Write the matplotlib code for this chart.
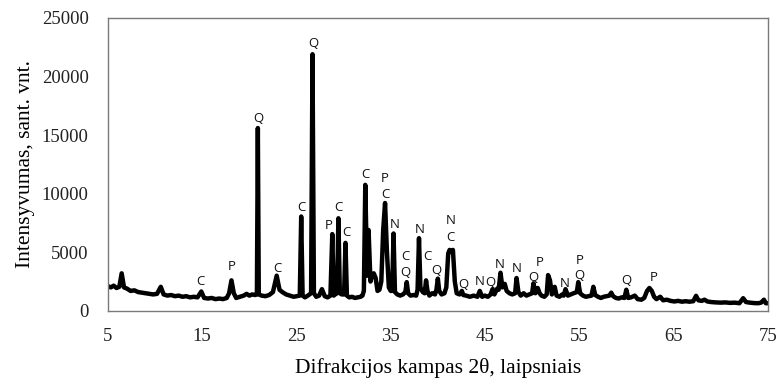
import matplotlib
matplotlib.use('Agg')
import matplotlib.pyplot as plt

# XRD trace (2theta, intensity)
two_theta = [
    5.0, 5.3, 5.6, 5.9, 6.2, 6.45, 6.7, 7.0, 7.4, 7.8, 8.2, 8.6, 9.0, 9.4, 9.8,
    10.2, 10.6, 10.9, 11.3, 11.7, 12.1, 12.5, 12.9, 13.3, 13.7, 14.1, 14.5, 14.9, 15.2,
    15.6, 16.0, 16.4, 16.8, 17.2, 17.6, 17.85, 18.1, 18.35, 18.6, 19.0, 19.4, 19.7,
    20.0, 20.3, 20.6, 20.8, 20.9, 21.0, 21.3, 21.7, 22.1, 22.5, 22.9, 23.2, 23.5, 23.9,
    24.3, 24.7, 25.0, 25.35, 25.5, 25.65, 25.9, 26.2, 26.55, 26.7, 26.85, 27.1, 27.4,
    27.7, 28.0, 28.3, 28.6, 28.8, 28.95, 29.1, 29.3, 29.45, 29.6, 29.8, 30.05, 30.2,
    30.35, 30.6, 30.9, 31.2, 31.5, 31.8, 32.0, 32.15, 32.3, 32.5, 32.65, 32.85, 33.0,
    33.2, 33.4, 33.6, 33.8, 34.0, 34.2, 34.4, 34.6, 34.8, 35.0, 35.15, 35.3, 35.45,
    35.7, 36.0, 36.3, 36.55, 36.7, 36.85, 37.1, 37.4, 37.7, 37.85, 38.0, 38.15, 38.4,
    38.6, 38.75, 38.9, 39.1, 39.4, 39.7, 39.85, 40.0, 40.15, 40.4, 40.7, 40.9, 41.1,
    41.25, 41.45, 41.6, 41.8, 42.0, 42.3, 42.55, 42.7, 43.0, 43.4, 43.8, 44.2, 44.45,
    44.7, 45.0, 45.3, 45.6, 45.8, 46.0, 46.3, 46.45, 46.65, 46.85, 47.1, 47.3, 47.6,
    47.9, 48.2, 48.35, 48.55, 48.8, 49.1, 49.4, 49.7, 50.0, 50.15, 50.35, 50.6, 50.8,
    51.0, 51.3, 51.55, 51.7, 51.9, 52.1, 52.4, 52.6, 52.9, 53.2, 53.35, 53.55, 53.8,
    54.1, 54.4, 54.75, 54.9, 55.1, 55.4, 55.7, 56.0, 56.3, 56.5, 56.7, 57.0, 57.3,
    57.6, 57.9, 58.2, 58.4, 58.6, 58.9, 59.2, 59.5, 59.8, 60.0, 60.2, 60.5, 60.9,
    61.2, 61.6, 61.9, 62.2, 62.45, 62.7, 62.95, 63.2, 63.6, 63.9, 64.3, 64.7, 65.1,
    65.5, 65.9, 66.3, 66.7, 67.1, 67.4, 67.65, 68.0, 68.3, 68.6, 69.0, 69.5, 70.0,
    70.5, 71.0, 71.5, 72.0, 72.4, 72.7, 73.1, 73.6, 74.0, 74.3, 74.6, 74.8, 75.0,
]
intensity = [
    2100, 2000, 2150, 1950, 2050, 3200, 2000, 1900, 1700, 1750, 1600, 1550, 1500, 1450, 1400,
    1450, 2050, 1400, 1300, 1350, 1250, 1300, 1200, 1250, 1150, 1200, 1150, 1650, 1100,
    1050, 1100, 1000, 1050, 1000, 1100, 1500, 2600, 1500, 1100, 1200, 1300, 1450,
    1300, 1400, 1350, 1400, 15600, 1400, 1300, 1250, 1350, 1600, 3000, 1800, 1600, 1400,
    1300, 1200, 1250, 1300, 8050, 1300, 1150, 1300, 1500, 21900, 1500, 1200, 1300,
    1850, 1250, 1150, 1300, 6550, 1300, 1400, 1500, 7900, 1500, 1400, 1400, 5800,
    1300, 1150, 1200, 1100, 1150, 1200, 1300, 1700, 10750, 3000, 6900, 2500, 3000,
    3200, 2800, 1700, 1800, 2500, 6900, 9200, 5000, 2000, 1700, 1700, 6600, 1600,
    1400, 1300, 1400, 1600, 2450, 1500, 1300, 1350, 1300, 1800, 6200, 2000, 1600,
    1500, 2600, 1700, 1300, 1500, 1400, 1800, 2750, 1700, 1400, 1500, 2000, 4900,
    5200, 5000, 5200, 2500, 1500, 1400, 1700, 1350, 1300, 1200, 1300, 1200, 1700,
    1200, 1300, 1200, 1400, 1850, 1400, 1900, 1800, 3250, 2000, 2300, 1700, 1500,
    1400, 1500, 2800, 1600, 1300, 1500, 1300, 1400, 1500, 2350, 1500, 1950, 1500,
    1300, 1200, 1400, 3050, 2600, 1400, 2050, 1300, 1200, 1400, 1300, 1850, 1300,
    1400, 1500, 1600, 2450, 1500, 1300, 1200, 1250, 1300, 2050, 1350, 1200, 1100,
    1200, 1250, 1300, 1550, 1250, 1100, 1050, 1150, 1100, 1800, 1100, 1150, 1300,
    1000, 950, 1100, 1700, 1950, 1700, 1200, 1000, 1200, 900, 950, 850, 800,
    850, 780, 820, 780, 820, 1280, 900, 850, 950, 800, 750, 720, 700,
    720, 680, 700, 650, 1080, 750, 700, 660, 650, 700, 950, 650, 650,
]

# phase labels: position (2theta), height, letter
label_x = [14.8, 18.1, 20.9, 23.0, 25.5, 26.8, 28.4, 29.4, 30.3, 32.3, 34.4, 34.4,
           35.4, 36.6, 36.6, 38.1, 38.9, 39.85, 41.35, 41.35, 42.7, 44.4, 45.6,
           46.6, 48.4, 50.1, 50.8, 53.5, 55.0, 55.0, 60.0, 62.9]
label_y = [2500, 3780, 16450, 3640, 8850, 22840, 7280, 8850, 6710, 11600, 11300, 9900,
           7340, 4600, 3250, 6910, 4640, 3440, 7700, 6250, 2220, 2500, 2410,
           3980, 3640, 2840, 4130, 2360, 4300, 3000, 2560, 2875]
label_text = ['C', 'P', 'Q', 'C', 'C', 'Q', 'P', 'C', 'C', 'C', 'P', 'C',
              'N', 'C', 'Q', 'N', 'C', 'Q', 'N', 'C', 'Q', 'N', 'Q',
              'N', 'N', 'Q', 'P', 'N', 'P', 'Q', 'Q', 'P']

plt.rcParams['font.family'] = ['Liberation Serif', 'DejaVu Serif']

fig = plt.figure(figsize=(7.77, 3.8), dpi=100)
ax = fig.add_axes([0.139, 0.182, 0.849, 0.771])

ax.plot(two_theta, intensity, color='black', linewidth=3.2, solid_joinstyle='round')

for x, y, t in zip(label_x, label_y, label_text):
    ax.text(x, y, t, ha='center', va='center', fontsize=9.5,
            family=['Open Sans', 'DejaVu Sans'], color='#111111')

ax.set_xlim(5, 75)
ax.set_ylim(0, 25000)
ax.set_xticks(range(5, 76, 10))
ax.set_yticks(range(0, 25001, 5000))
ax.tick_params(length=0, labelsize=13.5, colors='#222222')
ax.tick_params(axis='y', pad=14)
ax.tick_params(axis='x', pad=12)
for s in ax.spines.values():
    s.set_color('#7a7a7a')
    s.set_linewidth(1.0)

ax.set_xlabel('Difrakcijos kampas 2θ, laipsniais', fontsize=15.5, labelpad=10)
ax.set_ylabel('Intensyvumas, sant. vnt.', fontsize=15.5, labelpad=5)

fig.savefig('out.png', dpi=100, facecolor='white')
